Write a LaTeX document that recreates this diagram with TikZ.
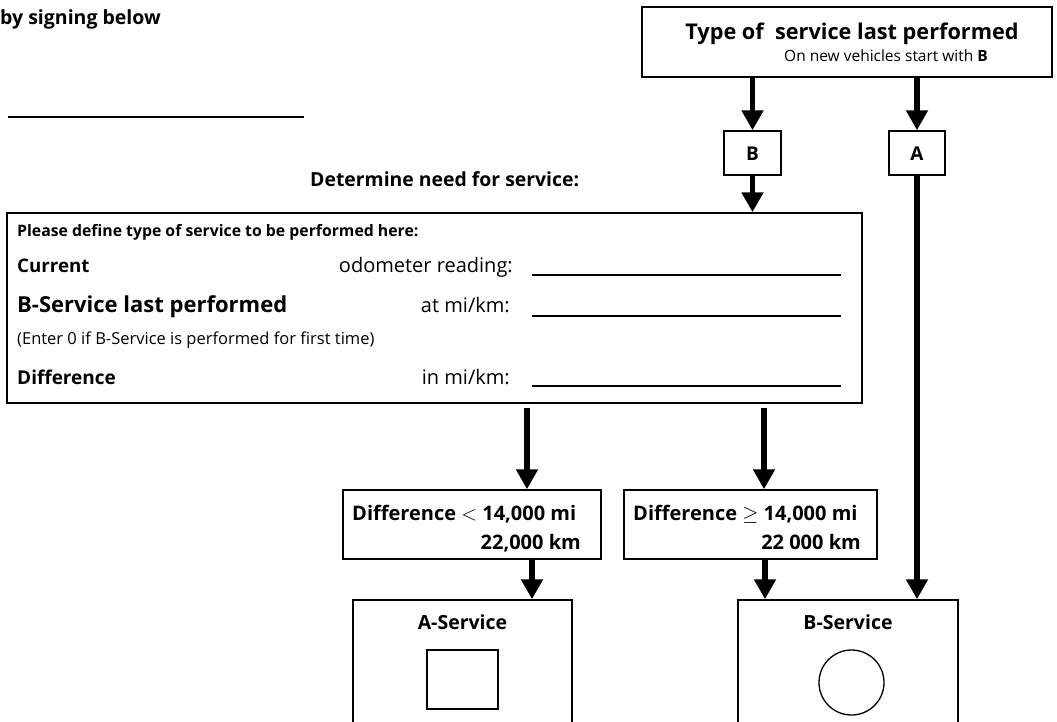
\documentclass[tikz,border=0pt]{standalone}
\usepackage{fontspec}
\setmainfont{Open Sans}
\usetikzlibrary{arrows.meta}
\begin{document}
\begin{tikzpicture}[x=1pt,y=-1pt,
  box/.style={draw, line width=1.5pt, inner sep=0pt},
  arr/.style={line width=5.5pt, -{Triangle[length=20pt 0, width=21pt 0]}},
  fillline/.style={line width=1.5pt},
  lbl/.style={inner sep=0pt},
  fb/.style={font=\bfseries\fontsize{#1}{#1}\selectfont},
  fr/.style={font=\fontsize{#1}{#1}\selectfont}]
\useasboundingbox (0,0) rectangle (1057,721);
\fill[white] (0,0) rectangle (1057,721);
\clip (0,0) rectangle (1057,721);

% header texts
\node[lbl, fb=19.5, anchor=base west] (sign) at (0,24) {by signing below};
\coordinate (sigL) at (8,117);
\coordinate (sigR) at (304,117);
\draw[fillline] (sigL) -- (sigR);
\node[lbl, fb=19.4, anchor=base west] (need) at (310,186) {Determine need for service:};

% top box
\node[box, minimum width=410pt, minimum height=70pt] (top) at (847,42) {};
\node[lbl, fb=21.7, anchor=base] (title) at (852,39) {Type of \ service last performed};
\node[lbl, fr=15.5, anchor=base] (sub) at (886,61) {On new vehicles start with \textbf{B}};

% letter boxes
\node[box, minimum width=57pt, minimum height=44pt] (bB) at (752.5,153) {};
\node[box, minimum width=56pt, minimum height=44pt] (bA) at (917,153) {};
\node[lbl, fb=19, anchor=base] (bBt) at (752.5,160) {B};
\node[lbl, fb=19, anchor=base] (bAt) at (917,160) {A};

% big box
\node[box, minimum width=855pt, minimum height=190pt] (big) at (434.5,308) {};
\node[lbl, fb=15.8, anchor=base west] (p1) at (17,236) {Please define type of service to be performed here:};
\node[lbl, fb=18.7, anchor=base west] (cur) at (17,272) {Current};
\node[lbl, fr=20, anchor=base east] (odo) at (513,272) {odometer reading:};
\node[lbl, fb=22, anchor=base west] (bsl) at (17,312) {B-Service last performed};
\node[lbl, fr=20, anchor=base east] (atm) at (510,312) {at mi/km:};
\node[lbl, fr=16.5, anchor=base west] (ent) at (17,344) {(Enter 0 if B-Service is performed for first time)};
\node[lbl, fb=19, anchor=base west] (dif) at (17,384) {Difference};
\node[lbl, fr=20, anchor=base east] (inm) at (510,384) {in mi/km:};
\coordinate (l1a) at (532,275); \coordinate (l1b) at (841,275);
\coordinate (l2a) at (532,316); \coordinate (l2b) at (841,316);
\coordinate (l3a) at (532,386); \coordinate (l3b) at (841,386);
\draw[fillline] (l1a) -- (l1b);
\draw[fillline] (l2a) -- (l2b);
\draw[fillline] (l3a) -- (l3b);

% difference boxes
\node[box, minimum width=258pt, minimum height=69pt] (d1) at (472,524.5) {};
\node[box, minimum width=253pt, minimum height=69pt] (d2) at (750.5,524.5) {};
\node[lbl, fb=20, anchor=base west] (d1a) at (352,520) {Difference $<$ 14,000 mi};
\node[lbl, fb=20, anchor=base east] (d1b) at (581,549) {22,000 km};
\node[lbl, fb=20, anchor=base west] (d2a) at (633,520) {Difference $\geq$ 14,000 mi};
\node[lbl, fb=20, anchor=base east] (d2b) at (861,549) {22 000 km};

% service boxes (cut off at the bottom)
\node[box, minimum width=219pt, minimum height=180pt] (as) at (462.5,690) {};
\node[box, minimum width=220pt, minimum height=180pt] (bs) at (848,690) {};
\node[lbl, fb=19.5, anchor=base] (asl) at (462.5,629) {A-Service};
\node[lbl, fb=19.5, anchor=base] (bsl2) at (848,629) {B-Service};
\node[box, line width=1.3pt, minimum width=71pt, minimum height=59pt] (sq) at (462.5,679.5) {};
\node[draw, circle, line width=1.3pt, inner sep=0pt, minimum size=65pt] (circ) at (851.5,682.5) {};

% connectors
\coordinate (c1) at (527,0);
\coordinate (c2) at (764,0);
\coordinate (c3) at (532,0);
\coordinate (c4) at (765,0);
\draw[arr] (top.south -| bB) -- (bB.north);
\draw[arr] (top.south -| bA) -- (bA.north);
\draw[arr] (bB.south) -- (big.north -| bB);
\draw[arr] (bA.south) -- (bs.north -| bA);
\draw[arr, shorten <=4pt] (big.south -| c1) -- (d1.north -| c1);
\draw[arr, shorten <=4pt] (big.south -| c2) -- (d2.north -| c2);
\draw[arr] (d1.south -| c3) -- (as.north -| c3);
\draw[arr] (d2.south -| c4) -- (bs.north -| c4);
\end{tikzpicture}
\end{document}
